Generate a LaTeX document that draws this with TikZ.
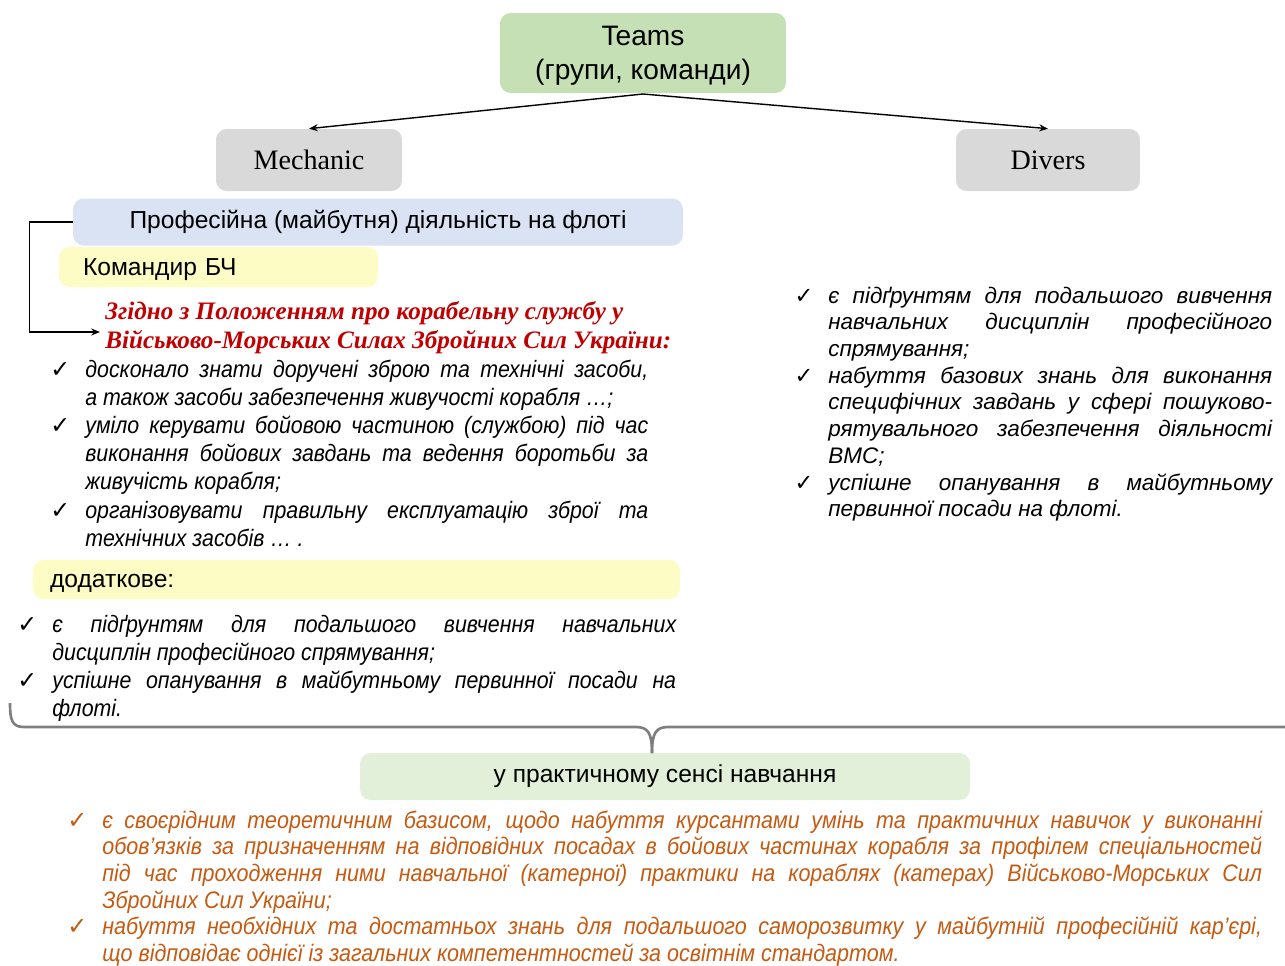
\documentclass[tikz,border=0pt]{standalone}
\usepackage{fontspec}
\setmainfont{Liberation Sans}
\newfontfamily\narrowf[FakeStretch=0.9]{Liberation Sans}
\newfontfamily\timesf{Liberation Serif}
\newfontfamily\symf{DejaVu Sans}
\usepackage{enumitem}
\usetikzlibrary{arrows.meta,positioning}

\definecolor{teamgreen}{HTML}{C5E0B4}
\definecolor{mechgray}{HTML}{D9D9D9}
\definecolor{profblue}{HTML}{DAE3F3}
\definecolor{komyellow}{HTML}{FCFCC4}
\definecolor{praktgreen}{HTML}{E2F0D9}
\definecolor{redtext}{HTML}{C00000}
\definecolor{browntext}{HTML}{C55A11}
\definecolor{bracegray}{HTML}{7F7F7F}

\newcommand{\chk}{{\symf\char"2713}}
\setlist[itemize]{label=\chk,leftmargin=0.6cm,labelsep=0.3cm,itemsep=0pt,topsep=0pt,parsep=0pt,partopsep=0pt}

\tikzset{
  box/.style={rounded corners=6pt,inner sep=0pt,anchor=center},
  arr/.style={-{Stealth[length=5pt,width=4pt]},line width=0.8pt},
  listtext/.style={anchor=north west,inner sep=0pt,align=justify,font=\narrowf\itshape\fontsize{13.5}{16}\selectfont},
}

\begin{document}
\begin{tikzpicture}[x=0.02cm,y=-0.02cm]
\useasboundingbox (0,0) rectangle (1285,965);
\hyphenpenalty=10000 \exhyphenpenalty=10000 \tolerance=10000 \hbadness=10000

% top level
\node[box,fill=teamgreen,minimum width=5.72cm,minimum height=1.6cm,align=center,
  font=\fontsize{16}{19}\selectfont] (teams) at (643,53) {\rule{0pt}{14pt}Teams\\(групи, команди)};
\node[box,fill=mechgray,minimum width=3.72cm,minimum height=1.24cm,
  font=\timesf\fontsize{16}{19}\selectfont] (mech) at (309,160) {Mechanic};
\node[box,fill=mechgray,minimum width=3.68cm,minimum height=1.24cm,
  font=\timesf\fontsize{16}{19}\selectfont] (divers) at (1048,160) {Divers};
\coordinate (tbot) at (643,94);
\draw[arr] (tbot) -- (mech.north);
\draw[arr] (tbot) -- (divers.north);

% mechanic branch
\node[box,fill=profblue,minimum width=12.2cm,minimum height=0.94cm,
  font=\fontsize{14}{17}\selectfont] (prof) at (378,222) {Професійна (майбутня) діяльність на флоті};
\node[box,fill=komyellow,minimum height=0.8cm,inner xsep=0.48cm,text width=5.42cm,align=left,
  font=\fontsize{14}{17}\selectfont] (kom) at (218.5,267) {\rule{0pt}{12pt}Командир БЧ};
\node[anchor=north west,inner sep=0pt,align=left,text=redtext,
  font=\timesf\bfseries\itshape\fontsize{14.3}{16.4}\selectfont] (zgidno) at (105,301)
  {Згідно з Положенням про корабельну службу у\\Військово-Морських Силах Збройних Сил України:};
\coordinate (zin) at (100,332);
\draw[arr] (prof.west) -- ++(-43,0) |- (zin);

\node[listtext,text width=11.86cm] (mechlist) at (55,349) {%
\begin{itemize}
\item досконало знати доручені зброю та технічні засоби,\linebreak а також засоби забезпечення живучості корабля …;
\item уміло керувати бойовою частиною (службою) під час\linebreak виконання бойових завдань та ведення боротьби за\linebreak живучість корабля;
\item організовувати правильну експлуатацію зброї та\linebreak технічних засобів … .
\end{itemize}};

\node[box,fill=komyellow,minimum height=0.78cm,inner xsep=0.34cm,text width=12.26cm,align=left,
  font=\fontsize{14}{17}\selectfont] (dod) at (356.5,579.5) {\rule{0pt}{12pt}додаткове:};
\node[listtext,text width=13.08cm] (dodlist) at (22,604) {%
\begin{itemize}
\item є підґрунтям для подальшого вивчення навчальних\linebreak дисциплін професійного спрямування;
\item успішне опанування в майбутньому первинної посади на\linebreak флоті.
\end{itemize}};

% divers branch
\node[listtext,text width=9.48cm,font=\itshape\fontsize{12.8}{15.2}\selectfont] (divlist) at (798,276) {%
\begin{itemize}
\item є підґрунтям для подальшого вивчення\linebreak навчальних дисциплін професійного\linebreak спрямування;
\item набуття базових знань для виконання\linebreak специфічних завдань у сфері пошуково-\linebreak рятувального забезпечення діяльності\linebreak ВМС;
\item успішне опанування в майбутньому\linebreak первинної посади на флоті.
\end{itemize}};

% common part
\node[box,fill=praktgreen,minimum width=12.2cm,minimum height=0.94cm,
  font=\fontsize{14}{17}\selectfont] (prakt) at (665,776.5) {у практичному сенсі навчання};
\coordinate (btip) at (652,753);
\draw[bracegray,line width=1.5pt] (10,703) .. controls (10,720) and (12,727) .. (24,727) -- (636,727)
  .. controls (648,727) and (652,733) .. (btip);
\draw[bracegray,line width=1.5pt] (btip) .. controls (652,733) and (656,727) .. (668,727) -- (1290,727);

\node[listtext,text width=23.8cm,text=browntext,font=\narrowf\itshape\fontsize{13.6}{15.2}\selectfont] (praktlist) at (72,801) {%
\begin{itemize}
\item є своєрідним теоретичним базисом, щодо набуття курсантами умінь та практичних навичок у виконанні\linebreak обов’язків за призначенням на відповідних посадах в бойових частинах корабля за профілем спеціальностей\linebreak під час проходження ними навчальної (катерної) практики на кораблях (катерах) Військово-Морських Сил\linebreak Збройних Сил України;
\item набуття необхідних та достатньох знань для подальшого саморозвитку у майбутній професійній кар’єрі,\linebreak що відповідає однієї із загальних компетентностей за освітнім стандартом.
\end{itemize}};
\end{tikzpicture}
\end{document}
